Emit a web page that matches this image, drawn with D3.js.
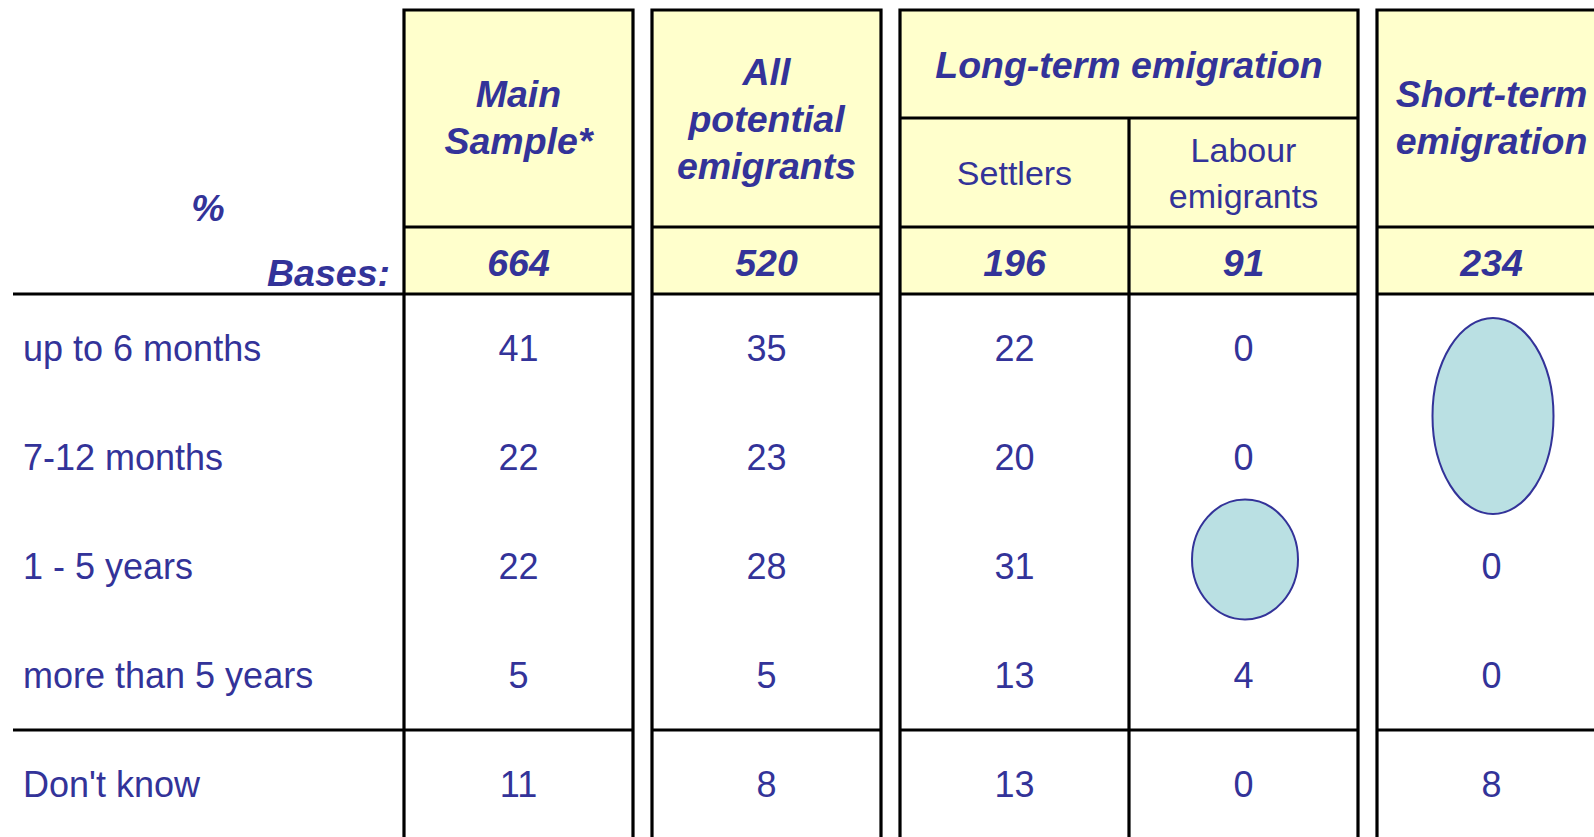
<!DOCTYPE html>
<html>
<head>
<meta charset="utf-8">
<script src="https://cdn.jsdelivr.net/npm/d3@7"></script>
<style>
  body { margin: 0; background: #fff; overflow: hidden; }
  svg { display: block; font-family: "Liberation Sans", Arial, sans-serif; }
</style>
</head>
<body>
<script>
const svgW = 1594;
const svgH = 837;

// rows of the table
const categories = ['up to 6 months', '7-12 months', '1 - 5 years', 'more than 5 years', "Don't know"];

// column values (null = cell covered by an ellipse)
const mainSample   = [41, 22, 22, 5, 11];
const allPotential = [35, 23, 28, 5, 8];
const settlers     = [22, 20, 31, 13, 13];
const labour       = [0, 0, null, 4, 0];
const shortTerm    = [null, null, 0, 0, 8];

const bases = [664, 520, 196, 91, 234];

// ellipses that mark a block of cells: column key, first row, last row
const highlights = [
  { col: 'labour', from: '1 - 5 years', to: '1 - 5 years' },
  { col: 'short', from: 'up to 6 months', to: '7-12 months' }
];

const columns = [
  { key: 'main', group: 0, head: ['Main', 'Sample*'], values: mainSample },
  { key: 'all', group: 1, head: ['All', 'potential', 'emigrants'], values: allPotential },
  { key: 'settlers', group: 2, sub: ['Settlers'], values: settlers },
  { key: 'labour', group: 2, sub: ['Labour', 'emigrants'], values: labour },
  { key: 'short', group: 3, head: ['Short-term', 'emigration'], values: shortTerm }
];
const groupTitles = { 2: 'Long-term emigration' };

const ink = '#333399';
const yellow = '#FFFFCC';
const bubble = '#BAE0E3';
const boldSize = 37.5;

const boxTop = 10;       // top of header boxes
const subTop = 118;      // line under "Long-term emigration"
const headBottom = 227;  // line between header and bases
const basesBottom = 294; // line under bases
const colW = 229, gapW = 19, firstX = 404;

// x position of every column
let x = firstX;
columns.forEach((c, i) => {
  if (i > 0 && c.group !== columns[i - 1].group) x += gapW;
  c.x0 = x;
  c.x1 = x + colW;
  c.cx = x + colW / 2;
  x += colW;
});

const y = d3.scaleBand()
  .domain(categories)
  .range([basesBottom, basesBottom + categories.length * 109]);

const svg = d3.select('body').append('svg')
  .attr('width', svgW)
  .attr('height', svgH);

// group boxes
const groups = d3.groups(columns, c => c.group).map(([g, cs]) => ({
  group: g, x0: cs[0].x0, x1: cs[cs.length - 1].x1, cols: cs
}));

svg.append('g').selectAll('rect')
  .data(groups)
  .enter()
  .append('rect')
  .attr('x', d => d.x0)
  .attr('y', boxTop)
  .attr('width', d => d.x1 - d.x0)
  .attr('height', basesBottom - boxTop)
  .attr('fill', yellow);

const lines = svg.append('g')
  .attr('stroke', '#000')
  .attr('stroke-width', 3.2)
  .attr('fill', 'none');

groups.forEach(gr => {
  const yBottom = svgH + 10;
  lines.append('path').attr('d', `M${gr.x0},${yBottom}V${boxTop}H${gr.x1}V${yBottom}`);
  [headBottom, basesBottom, y("Don't know")].forEach(yy => {
    lines.append('line').attr('x1', gr.x0).attr('x2', gr.x1).attr('y1', yy).attr('y2', yy);
  });
  if (groupTitles[gr.group]) {
    lines.append('line').attr('x1', gr.x0).attr('x2', gr.x1).attr('y1', subTop).attr('y2', subTop);
    gr.cols.slice(1).forEach(c => {
      lines.append('line').attr('x1', c.x0).attr('x2', c.x0).attr('y1', subTop).attr('y2', yBottom);
    });
  }
});

// left label area rules
[basesBottom, y("Don't know")].forEach(yy => {
  lines.append('line').attr('x1', 13).attr('x2', firstX).attr('y1', yy).attr('y2', yy);
});

const txt = svg.append('g').attr('fill', ink);

function lineBlock(sel, lns, cx, cy, step, size, bold, italic) {
  const t = sel.append('text')
    .attr('text-anchor', 'middle')
    .attr('font-size', size)
    .attr('font-weight', bold ? 'bold' : 'normal')
    .attr('font-style', italic ? 'italic' : 'normal');
  const y0 = cy - (lns.length - 1) * step / 2;
  lns.forEach((l, i) => {
    t.append('tspan').attr('x', cx).attr('y', y0 + i * step).attr('dy', '0.36em').text(l);
  });
}

// headers
columns.forEach(c => {
  if (c.head) lineBlock(txt, c.head, c.cx, c.head.length === 3 ? 118 : 117, 47, boldSize, true, true);
  if (c.sub) lineBlock(txt, c.sub, c.cx, (subTop + headBottom) / 2, 46, 34, false, false);
});
groups.filter(g => groupTitles[g.group]).forEach(g => {
  lineBlock(txt, [groupTitles[g.group]], (g.x0 + g.x1) / 2, 64, 0, boldSize, true, true);
});

// bases row
txt.selectAll('.base')
  .data(bases)
  .enter()
  .append('text')
  .attr('class', 'base')
  .attr('x', (d, i) => columns[i].cx)
  .attr('y', 262)
  .attr('dy', '0.36em')
  .attr('text-anchor', 'middle')
  .attr('font-size', boldSize)
  .attr('font-weight', 'bold')
  .attr('font-style', 'italic')
  .text(d => d);

txt.append('text')
  .attr('x', 208).attr('y', 207).attr('dy', '0.36em')
  .attr('text-anchor', 'middle')
  .attr('font-size', boldSize).attr('font-weight', 'bold').attr('font-style', 'italic')
  .text('%');
txt.append('text')
  .attr('x', 390).attr('y', 272).attr('dy', '0.36em')
  .attr('text-anchor', 'end')
  .attr('font-size', boldSize).attr('font-weight', 'bold').attr('font-style', 'italic')
  .text('Bases:');

// row labels
txt.selectAll('.cat')
  .data(categories)
  .enter()
  .append('text')
  .attr('class', 'cat')
  .attr('x', 23)
  .attr('y', d => y(d) + y.bandwidth() / 2)
  .attr('dy', '0.36em')
  .attr('font-size', 36)
  .text(d => d);

// ellipses
svg.append('g').selectAll('ellipse')
  .data(highlights)
  .enter()
  .append('ellipse')
  .attr('cx', d => columns.find(c => c.key === d.col).cx + 1.5)
  .attr('cy', d => {
    const span = y(d.to) + y.bandwidth() - y(d.from);
    return (y(d.from) + y(d.to) + y.bandwidth()) / 2 + (span > y.bandwidth() ? 13 : -7);
  })
  .attr('rx', d => (y(d.to) === y(d.from) ? 53 : 60.5))
  .attr('ry', d => {
    const span = y(d.to) + y.bandwidth() - y(d.from);
    return span > y.bandwidth() ? span * 0.45 : span * 0.55;
  })
  .attr('fill', bubble)
  .attr('stroke', ink)
  .attr('stroke-width', 2);

// cell values
columns.forEach(c => {
  txt.selectAll(null)
    .data(c.values.map((v, i) => ({ v, cat: categories[i] })).filter(d => d.v !== null))
    .enter()
    .append('text')
    .attr('x', c.cx)
    .attr('y', d => y(d.cat) + y.bandwidth() / 2)
    .attr('dy', '0.36em')
    .attr('text-anchor', 'middle')
    .attr('font-size', 36)
    .text(d => d.v);
});
</script>
</body>
</html>
